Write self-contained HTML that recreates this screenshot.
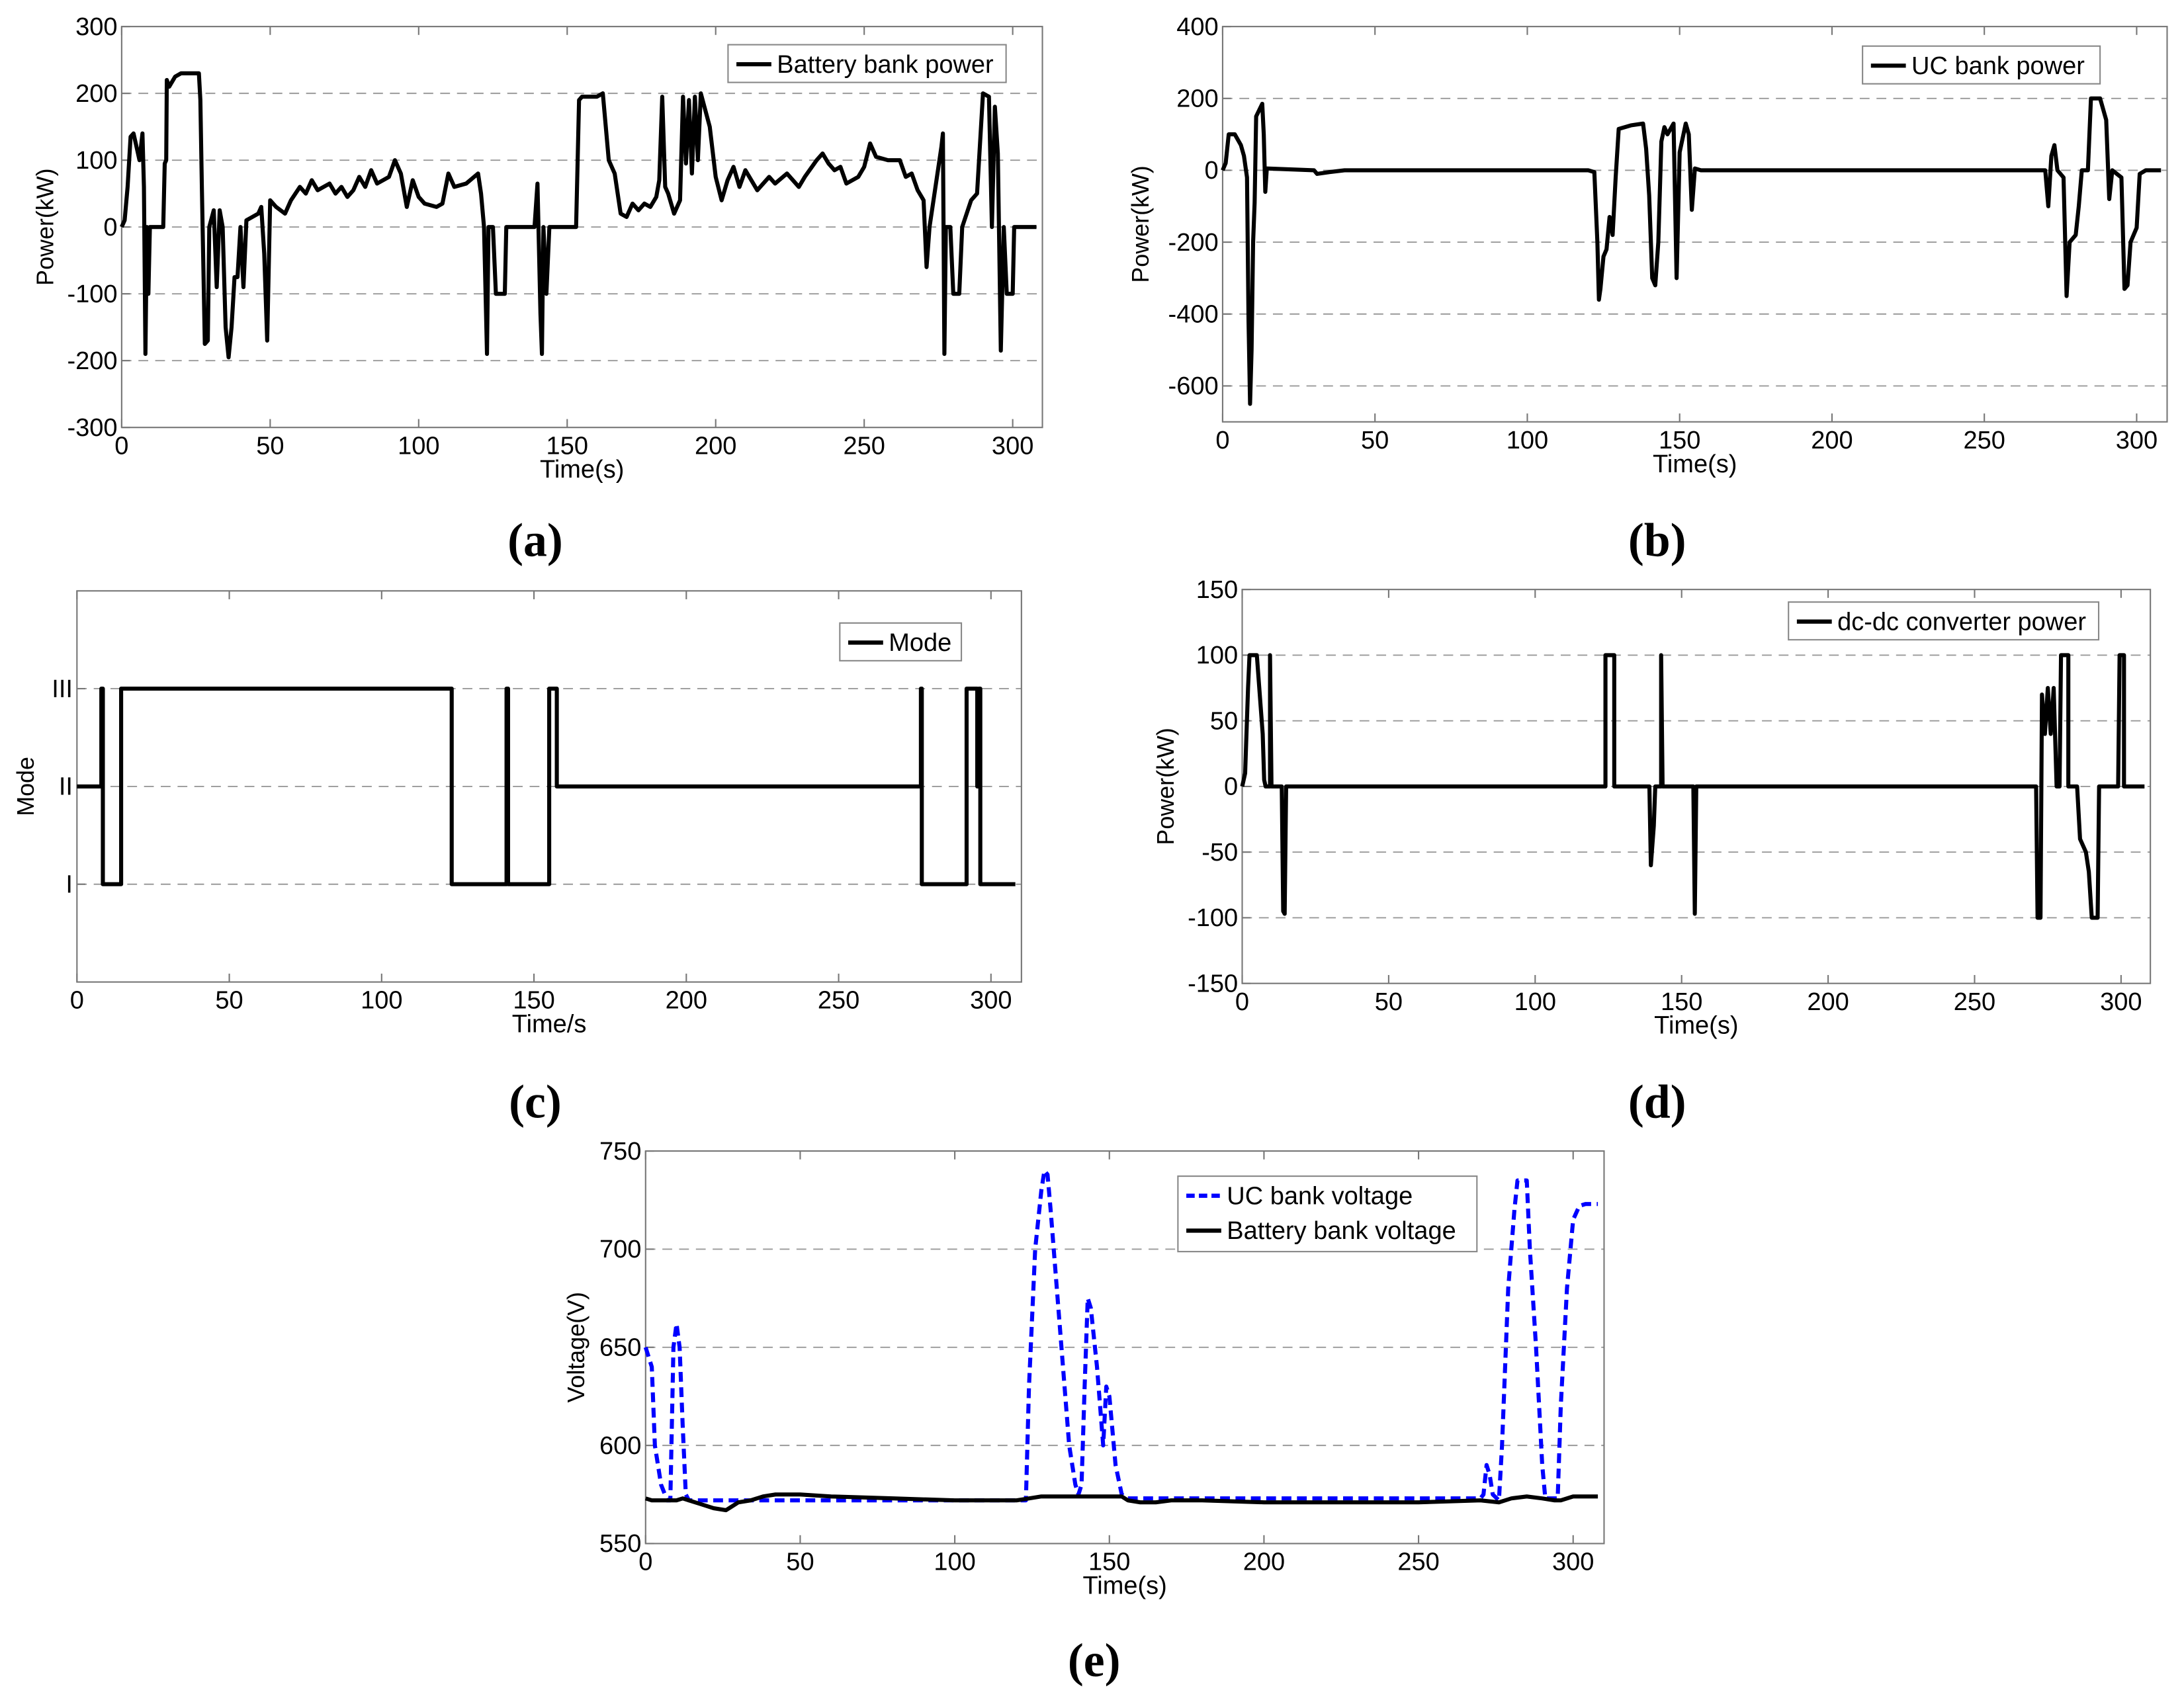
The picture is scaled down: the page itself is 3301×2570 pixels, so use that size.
<!DOCTYPE html>
<html><head><meta charset="utf-8"><style>
html,body{margin:0;padding:0;background:#fff;}
svg{display:block;}
text{font-family:"Liberation Sans Narrow","Liberation Sans",sans-serif;fill:#000;}
.cap{font-family:"Liberation Serif",serif;font-weight:bold;}
</style></head><body>
<svg id="fig" width="3301" height="2570" viewBox="0 0 1563 1217" xmlns="http://www.w3.org/2000/svg"></svg>
<script>
// ---- data ----
const xTicks = [0,50,100,150,200,250,300];
const aTicks = [300,200,100,0,-100,-200,-300];
const aT = [0,1,2,3,4,5,6,7,7.5,8,8.5,9,9.5,14,14.5,15,15.2,16,18,20,26,26.5,27,28,29,29.5,31,32,33,34,35,36,37,38,39,40,41,42,44,46,47,48,49,50,52,55,57,60,62,64,66,70,72,74,76,78,80,82,84,86,90,92,94,96,98,100,102,106,108,110,112,116,120,121,122,123,123.5,125,126,129,129.5,139,140,141,141.5,142,143,144,153,154,155,160,162,164,166,168,170,172,174,176,178,180,181,182,183,184,186,188,189,190,191,192,193,194,195,198,200,202,204,206,208,210,212,214,218,220,224,228,230,234,236,238,240,242,244,248,250,252,254,258,262,264,266,268,270,271,272,276,276.5,277,277.5,279,280,282,283,286,288,290,292,293,294,295,296,297,298,300,300.5,308];
const aV = [0,10,60,135,140,120,100,140,60,-190,0,-100,0,0,95,100,220,210,225,230,230,190,60,-175,-170,0,25,-90,25,0,-150,-195,-150,-75,-75,0,-90,10,15,20,30,-40,-170,40,30,20,40,60,50,70,55,65,50,60,45,55,75,60,85,65,75,100,80,30,70,45,35,30,35,80,60,65,80,50,0,-190,0,0,-100,-100,0,0,65,-130,-190,0,-100,0,0,190,195,195,200,100,80,20,15,35,25,35,30,45,70,195,60,50,20,40,195,95,190,80,195,100,200,150,75,40,70,90,60,85,70,55,75,65,80,60,75,100,110,95,85,90,65,75,90,125,105,100,100,75,80,55,40,-60,0,120,140,-190,0,0,-100,-100,0,40,50,200,195,0,180,110,-185,0,-100,-100,0,0];
const bTicks = [400,200,0,-200,-400,-600];
const bT = [0,1,2,4,6,7,8,8.5,9,9.5,10,10.5,11,13,13.5,14,14.5,30,31,35,40,120,122,123,123.5,124,125,126,127,128,129,130,134,138,139,140,141,142,143,144,145,146,148,149,150,152,153,154,155,157,270,271,272,273,274,276,277,278,280,281,282,284,285,288,289,290,291,292,295,296,297,298,300,301,303,308];
const bV = [0,20,100,100,70,40,-20,-420,-650,-500,-200,-90,150,185,100,-60,5,0,-10,-5,0,0,-5,-200,-360,-330,-240,-220,-130,-180,-20,115,125,130,60,-70,-300,-320,-200,80,120,100,130,-300,50,130,100,-110,5,0,0,-100,40,70,0,-20,-350,-200,-180,-100,0,0,200,200,170,140,-80,0,-20,-330,-320,-200,-160,-10,0,0];
const cTickVals = [3,2,1];
const cTickLabels = ["III","II","I"];
const cT = [0,8,8,8.5,8.5,14.5,14.5,123,123,141,141,141.5,141.5,155,155,157.5,157.5,277,277,277.3,277.3,292,292,295.5,295.5,296,296,296.5,296.5,308];
const cV = [2,2,3,3,1,1,3,3,1,1,3,3,1,1,3,3,2,2,3,3,1,1,3,3,2,2,3,3,1,1];
const dTicks = [150,100,50,0,-50,-100,-150];
const dT = [0,1,2,2.5,5,6,7,7.5,8,9.5,9.5,10,13.5,14,14.5,15,124,124,127,127,139,139.5,140.5,141,143,143,143.5,154,154.5,155,271,271.5,272.5,273,274,275,276,277,278,279,279.5,282,282,285,286,288,289,290,292,292.5,299,299.5,301,301,308];
const dV = [0,10,75,100,100,70,40,5,0,0,100,0,0,-95,-97,0,0,100,100,0,0,-60,-30,0,0,100,0,0,-97,0,0,-100,-100,70,40,75,40,75,0,0,100,100,0,0,-40,-50,-65,-100,-100,0,0,100,100,0,0];
const eTicks = [750,700,650,600,550];
const ucT = [0,2,3,5,7,8,9,10,11,12,13,14,123,124,126,128,129,130,131,133,135,137,139,140,141,142,143,144,146,147,148,149,150,152,154,156,270,271,272,273,274,276,277,279,281,282,285,286,288,290,291,295,296,298,300,302,304,308];
const ucV = [650,640,600,580,572,572,650,662,650,610,575,572,572,630,700,730,740,738,720,680,640,600,580,575,580,630,675,670,640,620,600,630,625,590,575,573,573,575,590,585,575,572,600,680,720,735,735,700,650,590,573,573,620,680,715,722,723,723];
const batT = [0,2,5,10,12,14,18,22,26,28,30,34,38,42,50,60,80,100,120,124,128,140,150,154,156,160,165,170,180,200,250,270,276,280,285,290,294,296,300,304,308];
const batV = [573,572,572,572,573,572,570,568,567,569,571,572,574,575,575,574,573,572,572,573,574,574,574,574,572,571,571,572,572,571,571,572,571,573,574,573,572,572,574,574,574];

// ---- drawing ----
const NS="http://www.w3.org/2000/svg";
const fig=document.getElementById('fig');
function mk(tag,attrs,parent){const e=document.createElementNS(NS,tag);for(const k in attrs)e.setAttribute(k,attrs[k]);(parent||fig).appendChild(e);return e;}
function panel(p){
  const g=mk('g',{});
  
  
  const sx=v=>p.L+(v-0)/310*(p.R-p.L);
  const sy=v=>p.B-(v-p.ymin)/(p.ymax-p.ymin)*(p.B-p.T);
  p.yt.forEach(v=>{ if(v>p.ymin&&v<p.ymax){const l=mk('line',{x1:p.L,x2:p.R,y1:sy(v),y2:sy(v),stroke:'#999','stroke-width':0.9,'stroke-dasharray':'7,5'},g);
    
    }});
  const box=mk('rect',{x:p.L,y:p.T,width:p.R-p.L,height:p.B-p.T,fill:'none',stroke:'#777','stroke-width':1},g);
  
  
  xTicks.forEach(v=>{const x=sx(v);
    mk('line',{x1:x,x2:x,y1:p.B,y2:p.B-6,stroke:'#777','stroke-width':1},g);
    mk('line',{x1:x,x2:x,y1:p.T,y2:p.T+6,stroke:'#777','stroke-width':1},g);
    const t=mk('text',{x:x,y:p.B+19,'text-anchor':'middle','font-size':18},g);t.textContent=v;
    
    });
  p.yt.forEach((v,i)=>{const y=sy(v);
    mk('line',{x1:p.L,x2:p.L+6,y1:y,y2:y,stroke:'#777','stroke-width':1},g);
    const t=mk('text',{x:p.L-3,y:y+6,'text-anchor':'end','font-size':18},g);t.textContent=p.yl?p.yl[i]:v;
    
    });
  p.series.forEach(s=>{
    const d=s.t.map((t,i)=>(i?'L':'M')+sx(t).toFixed(2)+','+sy(s.v[i]).toFixed(2)).join('');
    const pa=mk('path',{d:d,fill:'none',stroke:s.color,'stroke-width':2.9,'stroke-linejoin':'round','stroke-dasharray':s.dash||'none'},g);
    
    
  });
  const xl=mk('text',{x:(p.L+p.R)/2+p.xlo,y:p.B+36,'text-anchor':'middle','font-size':18},g);xl.textContent=p.xlabel;
  
  
  const yl=mk('text',{x:0,y:0,'text-anchor':'middle','font-size':17,transform:`translate(${p.ylx},${(p.T+p.B)/2}) rotate(-90)`,style:'font-family:"Liberation Sans",sans-serif'},g);yl.textContent=p.ylabel;
  
  
  const lg=p.leg;
  const lb=mk('rect',{x:lg.x,y:lg.y,width:lg.w,height:lg.h,fill:'#fff',stroke:'#888','stroke-width':1},g);
  
  
  lg.items.forEach((it,i)=>{const y=lg.y+14+i*25;
    mk('line',{x1:lg.x+6,x2:lg.x+31,y1:y,y2:y,stroke:it.color,'stroke-width':3,'stroke-dasharray':it.dash||'none'},g);
    const t=mk('text',{x:lg.x+35,y:y+6,'font-size':18},g);t.textContent=it.label;
    
    });
  const c=mk('text',{x:p.cx,y:p.cy,'text-anchor':'middle','font-size':34,class:'cap'},g);c.textContent=p.cap;
  
  
}
panel({name:'battery-power-chart',L:87,R:746,T:19,B:306,ymin:-300,ymax:300,yt:aTicks,xlabel:'Time(s)',xlo:0,ylabel:'Power(kW)',ylx:38,
  series:[{name:'battery-power-line',t:aT,v:aV,color:'#000'}],
  leg:{x:521,y:32,w:199,h:27,items:[{label:'Battery bank power',color:'#000'}]},cap:'(a)',cx:383,cy:398});
panel({name:'uc-power-chart',L:875,R:1551,T:19,B:302,ymin:-700,ymax:400,yt:bTicks,xlabel:'Time(s)',xlo:0,ylabel:'Power(kW)',ylx:822,
  series:[{name:'uc-power-line',t:bT,v:bV,color:'#000'}],
  leg:{x:1333,y:33,w:170,h:27,items:[{label:'UC bank power',color:'#000'}]},cap:'(b)',cx:1186,cy:398});
panel({name:'mode-chart',L:55,R:731,T:423,B:703,ymin:0,ymax:4,yt:cTickVals,yl:cTickLabels,xlabel:'Time/s',xlo:0,ylabel:'Mode',ylx:24,
  series:[{name:'mode-line',t:cT,v:cV,color:'#000'}],
  leg:{x:601,y:446,w:87,h:27,items:[{label:'Mode',color:'#000'}]},cap:'(c)',cx:383,cy:800});
panel({name:'dcdc-power-chart',L:889,R:1539,T:422,B:704,ymin:-150,ymax:150,yt:dTicks,xlabel:'Time(s)',xlo:0,ylabel:'Power(kW)',ylx:840,
  series:[{name:'dcdc-power-line',t:dT,v:dV,color:'#000'}],
  leg:{x:1280,y:431,w:222,h:27,items:[{label:'dc-dc converter power',color:'#000'}]},cap:'(d)',cx:1186,cy:800});
panel({name:'voltage-chart',L:462,R:1148,T:824,B:1105,ymin:550,ymax:750,yt:eTicks,xlabel:'Time(s)',xlo:0,ylabel:'Voltage(V)',ylx:418,
  series:[{name:'uc-voltage-line',t:ucT,v:ucV,color:'#0000ff',dash:'7,4'},{name:'battery-voltage-line',t:batT,v:batV,color:'#000'}],
  leg:{x:843,y:842,w:214,h:54,items:[{label:'UC bank voltage',color:'#0000ff',dash:'6,3'},{label:'Battery bank voltage',color:'#000'}]},cap:'(e)',cx:783,cy:1200});
</script>
</body></html>
